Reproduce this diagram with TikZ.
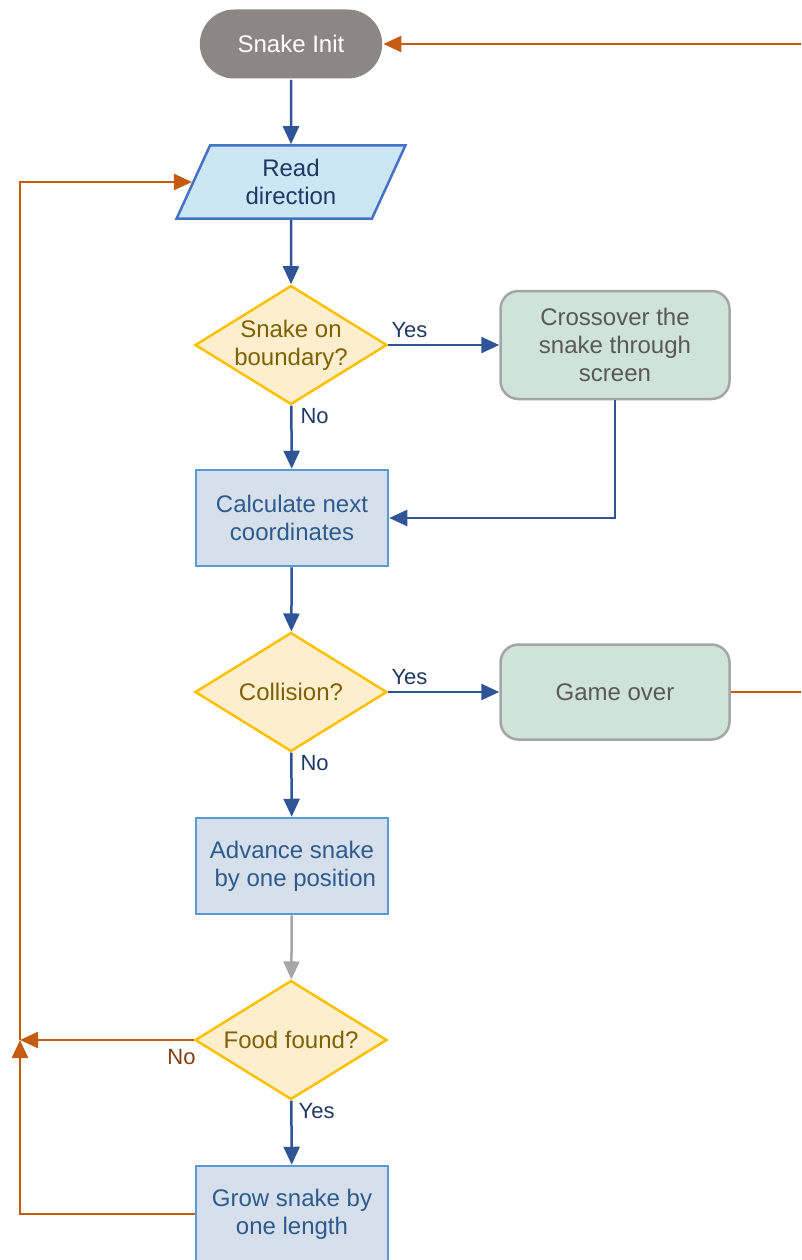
\documentclass[tikz,border=0pt]{standalone}
\usepackage{fontspec}
\setmainfont{Liberation Sans}
\usepackage{tikz}
\usetikzlibrary{arrows.meta}
\usetikzlibrary{shapes.misc}
\usetikzlibrary{shapes.geometric}

\definecolor{initgray}{HTML}{8C8784}
\definecolor{iofill}{HTML}{CDE6F4}
\definecolor{iodraw}{HTML}{4472C4}
\definecolor{navy}{HTML}{1F3864}
\definecolor{decfill}{HTML}{FDEFCD}
\definecolor{decdraw}{HTML}{FFC000}
\definecolor{dectext}{HTML}{7F6000}
\definecolor{endfill}{HTML}{CFE3DA}
\definecolor{enddraw}{HTML}{A5A5A5}
\definecolor{endtext}{HTML}{595959}
\definecolor{procfill}{HTML}{D6E0EC}
\definecolor{procdraw}{HTML}{5B9BD5}
\definecolor{proctext}{HTML}{2E5B8C}
\definecolor{flowblue}{HTML}{2F5597}
\definecolor{flowgray}{HTML}{A6A6A6}
\definecolor{looporange}{HTML}{C55A11}
\definecolor{nobrown}{HTML}{843C0C}

\begin{document}
\begin{tikzpicture} [x=1pt,y=-1pt,line width=2.5pt,
     font=\fontsize{24}{28}\selectfont,
     tip/.style={-{Triangle[length=18pt,width=16pt]}},
     go/.style={tip, draw=flowblue},
     back/.style={tip, draw=looporange},
     lbl/.style={font=\fontsize{22}{24}\selectfont, text=navy, inner sep=2pt},
     term/.style={rounded rectangle, fill=initgray, draw=none, text=white,
                  minimum width=189pt, minimum height=69pt},
     io/.style={trapezium, trapezium left angle=69, trapezium right angle=111,
                trapezium stretches=true, fill=iofill, draw=iodraw, text=navy,
                minimum width=229pt, minimum height=73pt, align=center},
     dec/.style={diamond, aspect=1.6, fill=decfill, draw=decdraw, text=dectext,
                 minimum width=192pt, minimum height=119pt, inner sep=-2pt, align=center},
     proc/.style={rectangle, fill=procfill, draw=procdraw, text=proctext,
                  minimum width=192pt, minimum height=96pt, align=center},
     stop/.style={rectangle, rounded corners=18pt, fill=endfill, draw=enddraw, text=endtext,
                  minimum width=229pt, align=center}
   ]
\useasboundingbox (0,0) rectangle (801,1260);
\clip (0,0) rectangle (801,1260);

\node (init) [term] at (291,44) {Snake Init};
\node (readdir) [io] at (291,182) {Read\\direction};
\node (boundary) [dec] at (291,345) {Snake on\\boundary?};
\node (cross) [stop, minimum height=108pt] at (615,345) {Crossover the\\snake through\\screen};
\node (calc) [proc] at (292,518) {Calculate next\\coordinates};
\node (collide) [dec] at (291,692) {Collision?};
\node (over) [stop, minimum height=95pt] at (615,692) {Game over};
\node (advance) [proc] at (292,866) {Advance snake\\\ by one position};
\node (food) [dec] at (291,1040) {Food found?};
\node (grow) [proc] at (292,1214) {Grow snake by\\one length};

\coordinate (join) at (20,1040);
\coordinate (restart) at (830,692);

% main flow
\draw [go] (init) -- (readdir);
\draw [go] (readdir) -- (boundary);
\draw [go] (boundary) -- node[lbl, anchor=south west, pos=0, yshift=4pt] {Yes} (cross);
\draw [go] (boundary) -- node[lbl, anchor=north west, pos=0, xshift=6pt] {No} (calc);
\draw [go] (cross) |- (calc);
\draw [go] (calc) -- (collide);
\draw [go] (collide) -- node[lbl, anchor=south west, pos=0, yshift=4pt] {Yes} (over);
\draw [go] (collide) -- node[lbl, anchor=north west, pos=0, xshift=6pt] {No} (advance);
\draw [tip, draw=flowgray] (advance) -- (food);
\draw [go] (food) -- node[lbl, anchor=north west, pos=0, xshift=4pt] {Yes} (grow);

% loops back
\draw [back] (food) -- node[lbl, text=nobrown, anchor=north east, pos=0, xshift=5pt, yshift=-6pt] {No} (join);
\draw [back] (grow) -| (join);
\draw [back] (join) |- (readdir);
\draw [back] (over) -- (restart) |- (init);
\end{tikzpicture}
\end{document}
